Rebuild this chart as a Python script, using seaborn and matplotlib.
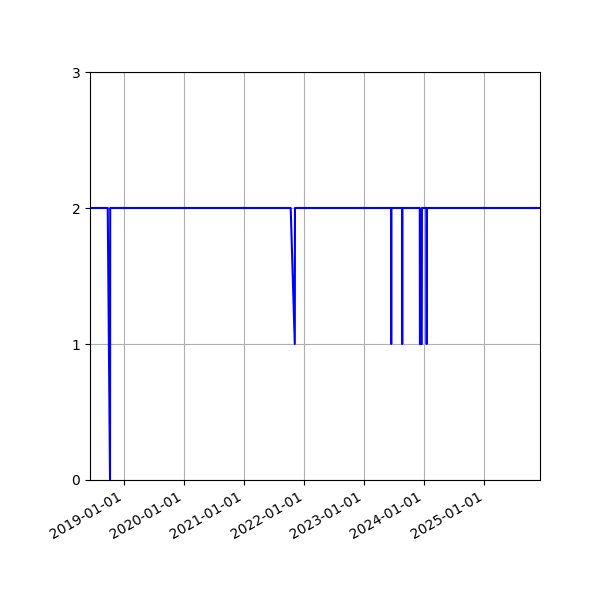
import pandas as pd
import matplotlib
matplotlib.use("Agg")
import matplotlib.pyplot as plt
import matplotlib.dates as mdates
import seaborn as sns

# values
dates = ["2018-06-06", "2018-09-22", "2018-10-06", "2018-10-07",
         "2021-10-10", "2021-11-04", "2021-11-05",
         "2023-06-13", "2023-06-14", "2023-06-15",
         "2023-08-19", "2023-08-20", "2023-08-21",
         "2023-12-05", "2023-12-06", "2023-12-17", "2023-12-18",
         "2024-01-15", "2024-01-16", "2024-01-17",
         "2025-12-06"]
values = [2, 2, 0, 2,
          2, 1, 2,
          2, 1, 2,
          2, 1, 2,
          2, 1, 1, 2,
          2, 1, 2,
          2]
y_ticks = [0, 1, 2, 3]

df = pd.DataFrame({"date": pd.to_datetime(dates), "value": values})

fig, ax = plt.subplots(figsize=(6, 6), dpi=100)
sns.lineplot(data=df, x="date", y="value", color="blue", linewidth=1.5, ax=ax)

ax.set_xlim(df["date"].min(), df["date"].max())
ax.set_ylim(0, 3)
ax.set_yticks(y_ticks)
ax.xaxis.set_major_locator(mdates.YearLocator())
ax.xaxis.set_major_formatter(mdates.DateFormatter("%Y-%m-%d"))
ax.set_xlabel("")
ax.set_ylabel("")
ax.grid(True)
fig.autofmt_xdate()
fig.subplots_adjust(left=0.15, right=0.9, top=0.88, bottom=0.2)
fig.savefig("out.png")
